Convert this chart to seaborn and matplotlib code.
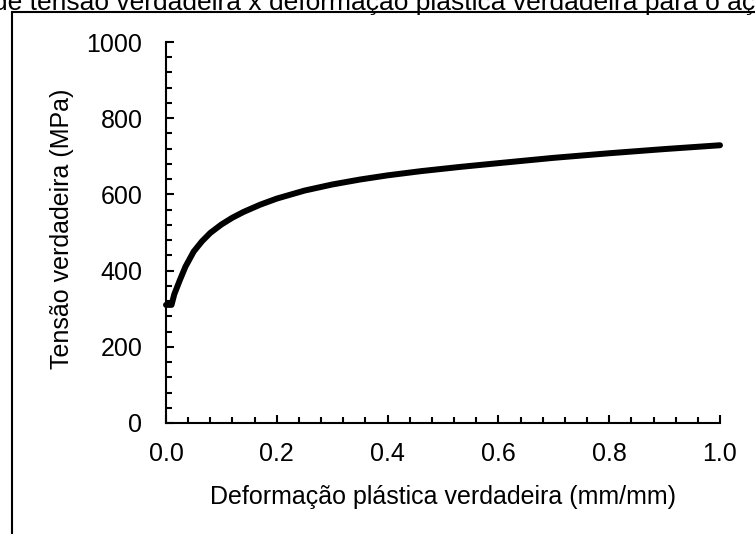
import matplotlib
matplotlib.use("Agg")
import matplotlib.pyplot as plt
import seaborn as sns
import pandas as pd
from matplotlib.ticker import MultipleLocator
from matplotlib.patches import Rectangle

# Data
strain = [0.0, 0.01, 0.015, 0.025, 0.035, 0.05, 0.065, 0.08, 0.10, 0.12, 0.14,
          0.17, 0.20, 0.25, 0.30, 0.35, 0.40, 0.46, 0.53, 0.60, 0.70, 0.80, 0.90, 1.00]
stress = [310, 310, 338, 375, 410, 450, 477, 499, 521, 539, 554,
          573, 589, 610, 626, 639, 650, 661, 672, 682, 696, 708, 719, 729]

title_text = "de tensão verdadeira x deformação plástica verdadeira para o aço"
xlabel = "Deformação plástica verdadeira (mm/mm)"
ylabel = "Tensão verdadeira (MPa)"

df = pd.DataFrame({"strain": strain, "stress": stress})

sns.set_style("ticks")
plt.rcParams["font.family"] = ["Liberation Sans", "DejaVu Sans"]

W, H = 755, 534
FS = 18
fig = plt.figure(figsize=(W / 100, H / 100), dpi=100)
ax = fig.add_axes([166 / W, 1 - 423 / H, (720 - 166) / W, (423 - 42) / H])

sns.lineplot(data=df, x="strain", y="stress", ax=ax, color="black",
             linewidth=4.3, clip_on=False)

ax.set_xlim(0, 1.0)
ax.set_ylim(0, 1000)
ax.xaxis.set_major_locator(MultipleLocator(0.2))
ax.xaxis.set_minor_locator(MultipleLocator(0.04))
ax.yaxis.set_major_locator(MultipleLocator(200))
ax.yaxis.set_minor_locator(MultipleLocator(40))
ax.set_xticks([0.0, 0.2, 0.4, 0.6, 0.8, 1.0])
ax.set_xticklabels(["0.0", "0.2", "0.4", "0.6", "0.8", "1.0"])

for side in ["top", "right"]:
    ax.spines[side].set_visible(False)
for side in ["left", "bottom"]:
    ax.spines[side].set_linewidth(1.5)
    ax.spines[side].set_color("black")

ax.tick_params(axis="both", which="major", direction="in", length=6, width=1.5,
               labelsize=FS, colors="black")
ax.tick_params(axis="y", which="major", pad=17)
ax.tick_params(axis="x", which="major", pad=14)
ax.tick_params(axis="both", which="minor", direction="in", length=4, width=1.5,
               colors="black")
ax.set_xlabel("")
ax.set_ylabel("")
ax.grid(False)

# axis titles
fig.text(443 / W, 1 - 497 / H, xlabel, fontsize=FS, ha="center", va="center",
         color="black")
fig.text(62 / W, 1 - 229 / H, ylabel, fontsize=FS, ha="center", va="center",
         rotation=90, color="black")

# outer chart frame (partly outside the picture)
fig.patches.append(Rectangle((12 / W, -0.1), 2.0, (1 - 12 / H) + 0.1,
                             transform=fig.transFigure, fill=False,
                             edgecolor="black", linewidth=1.5))

# title, clipped at top and sides as in the reference
fig.text(-7 / W, 1 - 10 / H, title_text, fontsize=19, ha="left", va="baseline",
         color="black")

fig.savefig("out.png", dpi=100, facecolor="white")
